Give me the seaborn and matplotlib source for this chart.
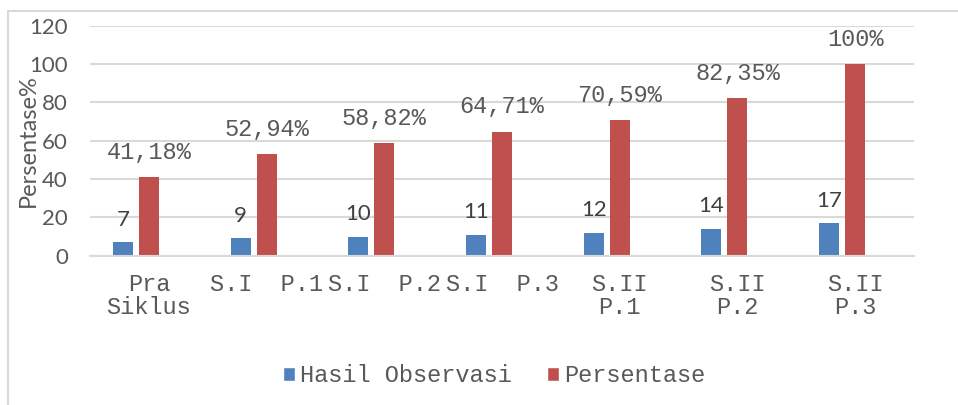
import pandas as pd
import matplotlib.pyplot as plt
import seaborn as sns
from matplotlib.patches import Patch
from matplotlib.lines import Line2D

# Chart data
categories = ["Pra\nSiklus", "S.I  P.1", "S.I  P.2", "S.I  P.3",
              "S.II\nP.1", "S.II\nP.2", "S.II\nP.3"]
hasil_observasi = [7, 9, 10, 11, 12, 14, 17]
persentase = [41.18, 52.94, 58.82, 64.71, 70.59, 82.35, 100]
series_names = ["Hasil Observasi", "Persentase"]
empty_series = "Seri 3"  # empty third series in the source chart, keeps the slot
y_ticks = [0, 20, 40, 60, 80, 100, 120]

BLUE = "#4F81BD"
RED = "#C0504D"
GRAY_TEXT = "#595959"
GRID = "#D9D9D9"
SANS = "Lato"
MONO = "Liberation Mono"

sns.set_style("white")
plt.rcParams['font.family'] = [SANS, 'DejaVu Sans']


def pct_label(v):
    if float(v).is_integer():
        return f"{int(v)}%"
    return f"{v:.2f}".replace(".", ",") + "%"


df = pd.DataFrame({
    "kategori": categories * 2,
    "seri": [series_names[0]] * len(categories) + [series_names[1]] * len(categories),
    "nilai": hasil_observasi + persentase,
})

W, H = 958, 405
fig = plt.figure(figsize=(W / 100, H / 100), dpi=100)
ax = fig.add_axes([90 / W, 1 - 255.7 / H, (914 - 90) / W, 230 / H])

sns.barplot(data=df, x="kategori", y="nilai", hue="seri", order=categories,
            hue_order=series_names + [empty_series],
            palette=[BLUE, RED, "white"], saturation=1, errorbar=None,
            width=0.663, gap=0.23, linewidth=0, legend=False, ax=ax)

ax.set_ylim(0, 120)
ax.set_xlim(-0.5, len(categories) - 0.5)
ax.set_yticks(y_ticks)
ax.yaxis.grid(True, color=GRID, linewidth=1.5)
ax.set_axisbelow(True)
for side in ["left", "right", "top"]:
    ax.spines[side].set_visible(False)
ax.spines["bottom"].set_color(GRID)
ax.spines["bottom"].set_linewidth(1.5)

ax.tick_params(axis="y", length=0, pad=16, labelsize=16, labelcolor=GRAY_TEXT)
ax.tick_params(axis="x", length=0, pad=12.5)
ax.set_xticks(range(len(categories)))
ax.set_xticklabels(categories, fontfamily=MONO, fontsize=17, color=GRAY_TEXT,
                   linespacing=1.0)
ax.set_xlabel("")
ax.set_ylabel("Persentase%", fontsize=17, color=GRAY_TEXT)
ax.yaxis.set_label_coords(-0.062, 0.5)

ax.bar_label(ax.containers[0], labels=[str(v) for v in hasil_observasi],
             padding=9, fontfamily=SANS, fontsize=16, color="#404040")
ax.bar_label(ax.containers[1], labels=[pct_label(v) for v in persentase],
             padding=9.5, fontfamily=MONO, fontsize=17, color=GRAY_TEXT)

handles = [Patch(facecolor=BLUE, label=series_names[0]),
           Patch(facecolor=RED, label=series_names[1])]
fig.legend(handles=handles, loc="center", bbox_to_anchor=(494 / W, 1 - 376 / H),
           ncol=2, frameon=False, prop={"family": MONO, "size": 17},
           labelcolor=GRAY_TEXT, handlelength=0.51, handleheight=0.51,
           handletextpad=0.21, columnspacing=1.5)

# outer chart frame (cropped on the right and bottom)
fig.add_artist(Line2D([8 / W, 1], [1 - 11 / H] * 2, transform=fig.transFigure,
                      color=GRID, linewidth=1.5))
fig.add_artist(Line2D([8 / W] * 2, [0, 1 - 11 / H], transform=fig.transFigure,
                      color=GRID, linewidth=1.5))

fig.savefig("out.png", dpi=100)
plt.close(fig)
